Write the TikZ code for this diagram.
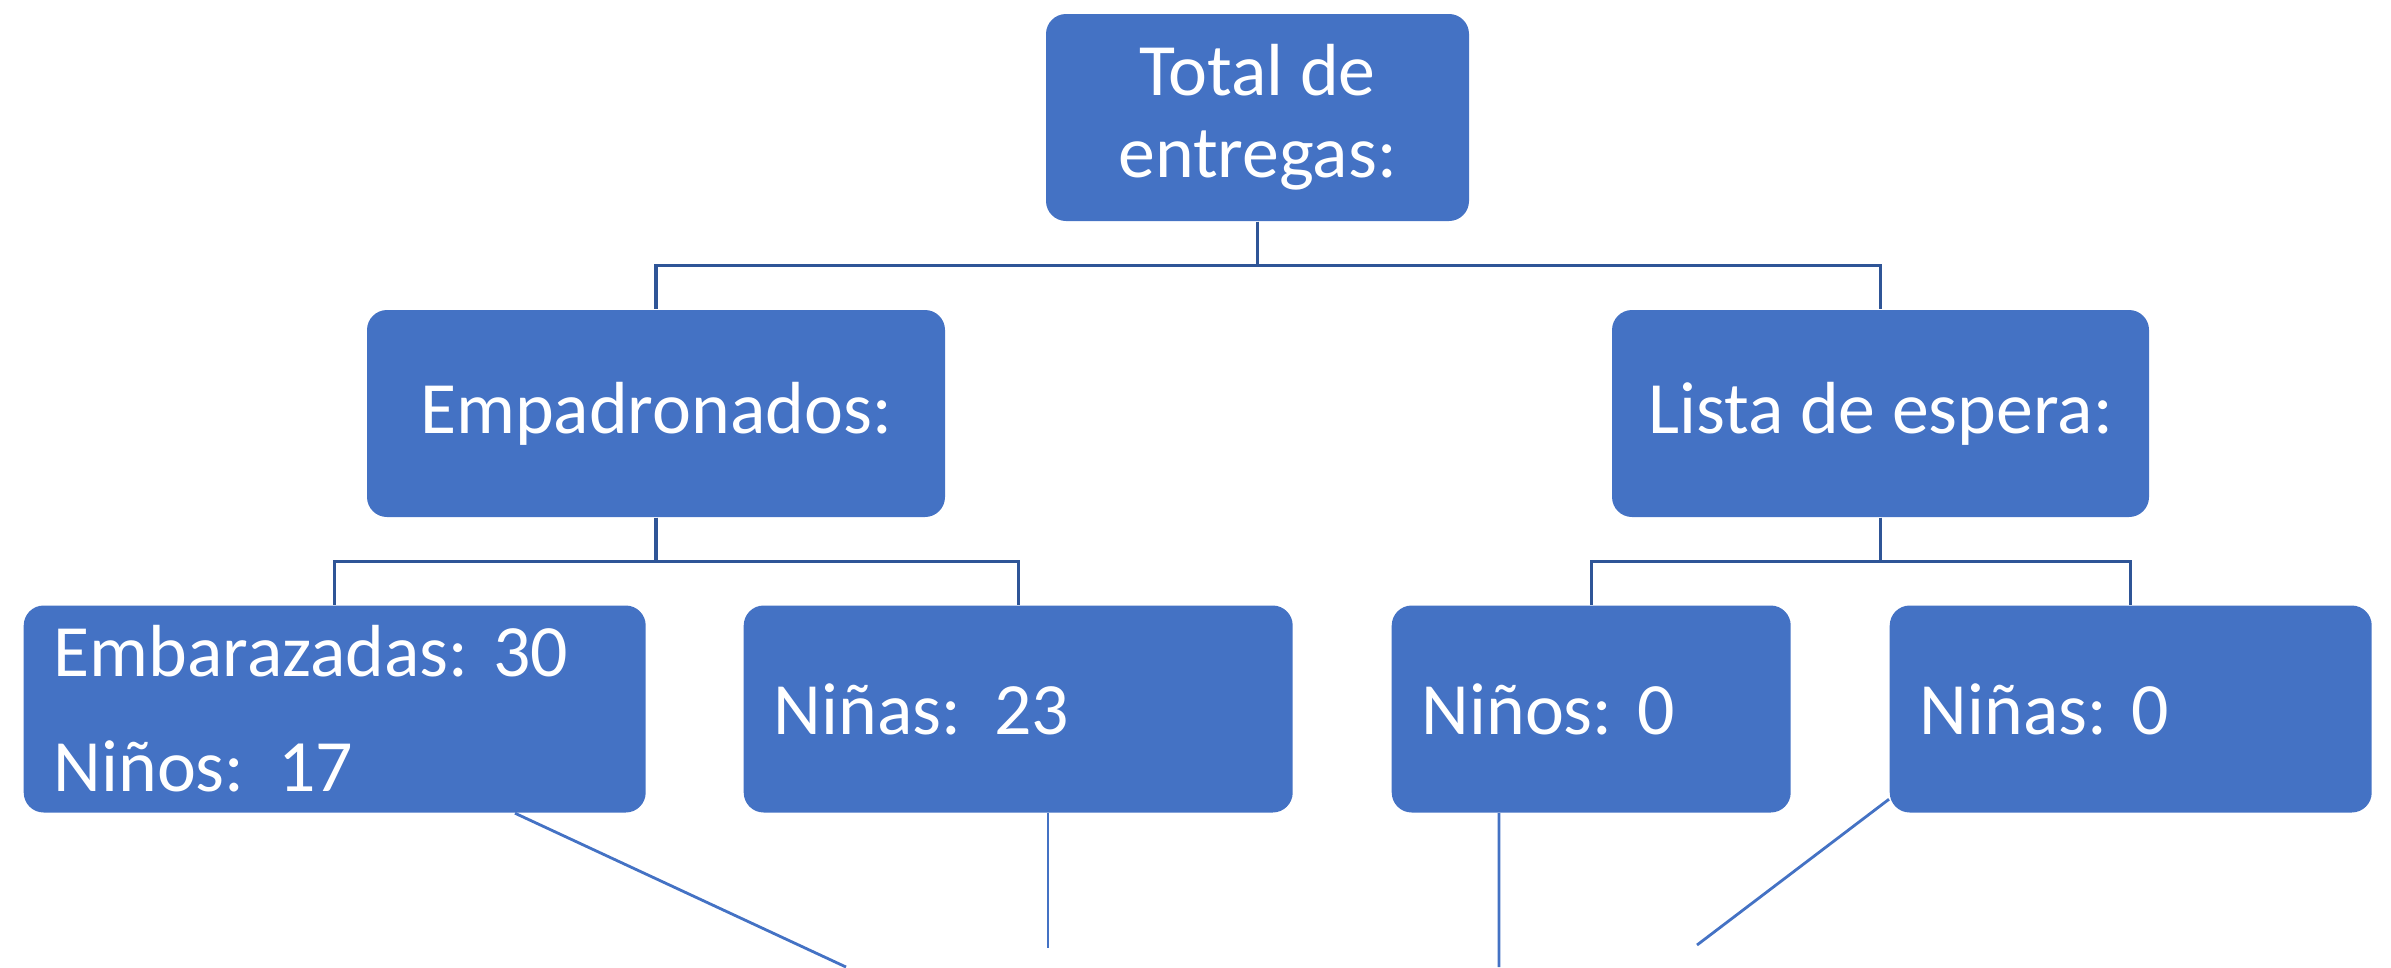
\documentclass[tikz,border=0pt]{standalone}
\usepackage{fontspec}
\setmainfont{Carlito}
\usepackage{tikz}
\definecolor{boxblue}{HTML}{4472C4}
\definecolor{treeblue}{HTML}{2F5597}
\frenchspacing

\begin{document}
\begin{tikzpicture}[
  box/.style={rounded corners=0.2cm, fill=boxblue, text=white, inner sep=0pt,
    minimum height=2.07cm, font=\fontsize{21}{23.3}\selectfont},
  leftbox/.style={box, anchor=west, inner xsep=0.3cm, align=left},
  tree/.style={treeblue, line width=0.9pt},
  loose/.style={boxblue, line width=0.8pt}
]
\useasboundingbox (0,0) rectangle (23.91,-9.67);

\node (total)[box, minimum width=4.23cm, align=center] at (12.575,-1.175) {Total de\\entregas:};

\node (empad)[box, minimum width=5.78cm] at (6.56,-4.135) {Empadronados:};
\node (espera)[box, minimum width=5.37cm] at (18.805,-4.135) {Lista de espera:};

\node (embar)[leftbox, text width=5.62cm, minimum width=6.22cm] at (0.23,-7.09) {Embarazadas: 30\\[9.5pt]Niños:\ \hspace{0.12em}17};
\node (ninas)[leftbox, text width=4.89cm, minimum width=5.49cm] at (7.43,-7.09) {Niñas:\ \hspace{0.12em}23};
\node (ninos0)[leftbox, text width=3.39cm, minimum width=3.99cm] at (13.91,-7.09) {Niños: 0};
\node (ninas0)[leftbox, text width=4.22cm, minimum width=4.82cm] at (18.89,-7.09) {Niñas: 0};

\draw[tree] (total.south) -- ++(0,-0.44) -| (empad.north);
\draw[tree] (total.south) -- ++(0,-0.44) -| (espera.north);
\draw[tree] (empad.south) -- ++(0,-0.44) -| (embar.north);
\draw[tree] (empad.south) -- ++(0,-0.44) -| (ninas.north);
\draw[tree] (espera.south) -- ++(0,-0.44) -| (ninos0.north);
\draw[tree] (espera.south) -- ++(0,-0.44) -| (ninas0.north);

% lines running off below
\coordinate (endA) at (8.46,-9.67);
\coordinate (endB) at (10.48,-9.48);
\coordinate (endC) at (14.99,-9.67);
\coordinate (endD) at (16.97,-9.45);
\draw[loose] (embar.south west) ++(4.92,0) -- (endA);
\draw[loose] (ninas.south west) ++(3.05,0) -- (endB);
\draw[loose] (ninos0.south west) ++(1.08,0) -- (endC);
\draw[loose] (ninas0.south west) ++(0,0.14) -- (endD);

\end{tikzpicture}
\end{document}
